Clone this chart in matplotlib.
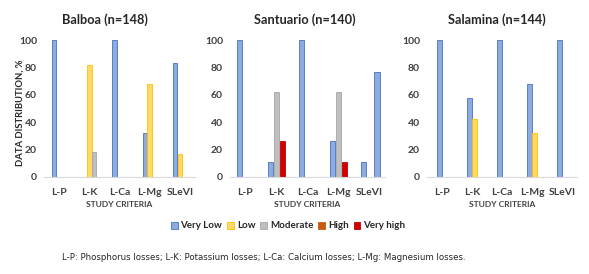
import numpy as np
import matplotlib
matplotlib.use('Agg')
import matplotlib.pyplot as plt
from matplotlib.patches import Patch

criteria = ['L-P', 'L-K', 'L-Ca', 'L-Mg', 'SLeVI']

# Balboa: Very Low, Low, Moderate
balboa_very_low = [100, 0, 100, 32, 83]
balboa_low = [0, 82, 0, 68, 17]
balboa_moderate = [0, 18, 0, 0, 0]

# Santuario: Very Low, Moderate, Very high (+ an extra very-low-coloured bar on SLeVI)
santuario_very_low = [100, 11, 100, 26, 11]
santuario_moderate = [0, 62, 0, 62, 0]
santuario_very_high = [0, 26, 0, 11, 0]
santuario_extra = [0, 0, 0, 0, 77]

# Salamina: Very Low, Low
salamina_very_low = [100, 58, 100, 68, 100]
salamina_low = [0, 42, 0, 32, 0]

levels = ['Very Low', 'Low', 'Moderate', 'High', 'Very high']
fills = {'Very Low': '#8faadc', 'Low': '#ffd966', 'Moderate': '#bfbfbf',
         'High': '#c55a11', 'Very high': '#d00000'}
edges = {'Very Low': '#4472c4', 'Low': '#ffc000', 'Moderate': '#a5a5a5',
         'High': '#c55a11', 'Very high': '#c00000'}

plt.rcParams['font.family'] = ['Lato', 'DejaVu Sans']

fig = plt.figure(figsize=(5.89, 2.74), dpi=100)

# axes rectangles in pixels, plus title centre
W, H = 589, 274
panels = [
    ('Balboa (n=148)', 44, 195, 105, [('Very Low', balboa_very_low), ('Low', balboa_low),
                                      ('Moderate', balboa_moderate)], 0.16),
    ('Santuario (n=140)', 230, 385, 305, [('Very Low', santuario_very_low), ('Moderate', santuario_moderate),
                                          ('Very high', santuario_very_high), ('Very Low', santuario_extra)], 0.19),
    ('Salamina (n=144)', 427, 577, 497, [('Very Low', salamina_very_low), ('Low', salamina_low)], 0.17),
]
y0, y100 = 177, 40

x = np.arange(len(criteria))
for i, (title, left, right, tx, series, w) in enumerate(panels):
    ax = fig.add_axes([left / W, 1 - y0 / H, (right - left) / W, (y0 - y100) / H])
    n = 3
    for j, (lvl, vals) in enumerate(series):
        off = (j - (n - 1) / 2) * w
        if title.startswith('Salamina'):
            off = (j - 0.5) * w
        if j == 3:
            # extra bar on SLeVI sits just right of the last slot
            off = (n - 1) / 2 * w + 0.05
        ax.bar(x + off, vals, width=w * 0.92, color=fills[lvl], edgecolor=edges[lvl], linewidth=0.6)
    ax.set_xlim(-0.5, 4.5)
    ax.set_ylim(0, 100)
    ax.set_yticks([0, 20, 40, 60, 80, 100])
    ax.set_xticks(x)
    ax.set_xticklabels(criteria, fontsize=7.5, fontweight='bold', color='#404040')
    for lab in ax.get_yticklabels():
        lab.set_fontsize(7.5)
        lab.set_fontweight('bold')
        lab.set_color('#404040')
    ax.tick_params(axis='x', length=0, pad=8)
    ax.tick_params(axis='y', length=0, pad=5)
    for s in ['top', 'right', 'left']:
        ax.spines[s].set_visible(False)
    ax.spines['bottom'].set_color('#d9d9d9')
    ax.set_xlabel('STUDY CRITERIA', fontsize=6, fontweight='bold', color='#404040', labelpad=3)
    fig.text(tx / W, 1 - 20 / H, title, ha='center', va='center', fontsize=9.2,
             fontweight='bold', color='#262626')

fig.text(20 / W, 1 - 113 / H, 'DATA DISTRIBUTION, %', rotation=90, ha='center', va='center',
         fontsize=6.8, fontweight='bold', color='#262626')

handles = [Patch(facecolor=fills[l], edgecolor=edges[l], linewidth=0.6) for l in levels]
fig.legend(handles, levels, loc='center', bbox_to_anchor=(288 / W, 1 - 226 / H), ncol=5, frameon=False,
           prop={'size': 7, 'weight': 'bold'}, handlelength=0.7, handleheight=0.7,
           handletextpad=0.3, columnspacing=0.5, labelcolor='#262626')

fig.text(264 / W, 1 - 257 / H,
         'L-P: Phosphorus losses; L-K: Potassium losses; L-Ca: Calcium losses; L-Mg: Magnesium losses.',
         ha='center', va='center', fontsize=6.2, family='DejaVu Sans', color='#262626')

fig.savefig('out.png', dpi=100)
